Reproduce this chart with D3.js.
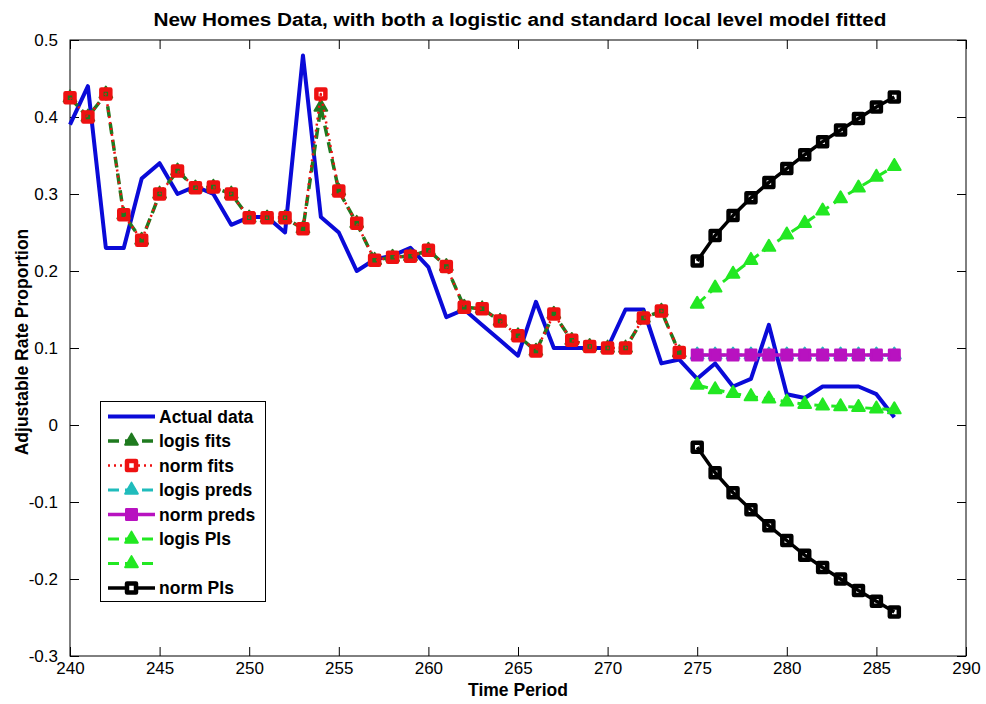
<!DOCTYPE html>
<html>
<head>
<meta charset="utf-8">
<script src="https://cdn.jsdelivr.net/npm/d3@7"></script>
<style>
  html, body { margin: 0; padding: 0; background: #fff; }
  svg { display: block; }
  text { font-family: "Liberation Sans", Arial, sans-serif; }
</style>
</head>
<body>
<script>
// ---------------- DATA ----------------
const actualPeriods = [240,241,242,243,244,245,246,247,248,249,250,251,252,253,254,255,256,257,258,259,260,261,262,263,264,265,266,267,268,269,270,271,272,273,274,275,276,277,278,279,280,281,282,283,284,285,286];
const actualData = [0.39,0.44,0.23,0.23,0.32,0.34,0.30,0.31,0.30,0.26,0.27,0.27,0.25,0.48,0.27,0.25,0.20,0.215,0.22,0.23,0.205,0.14,0.15,0.13,0.11,0.09,0.16,0.10,0.10,0.10,0.10,0.15,0.15,0.08,0.085,0.06,0.08,0.05,0.06,0.13,0.04,0.035,0.05,0.05,0.05,0.04,0.01];

const fitPeriods = [240,241,242,243,244,245,246,247,248,249,250,251,252,253,254,255,256,257,258,259,260,261,262,263,264,265,266,267,268,269,270,271,272,273,274];
const logisFits = [0.425,0.40,0.43,0.273,0.24,0.30,0.33,0.308,0.309,0.30,0.269,0.269,0.269,0.255,0.413,0.304,0.262,0.214,0.218,0.219,0.227,0.206,0.153,0.151,0.135,0.116,0.096,0.144,0.11,0.102,0.10,0.10,0.139,0.148,0.094];
const normFits = [0.425,0.40,0.43,0.273,0.24,0.30,0.33,0.308,0.309,0.30,0.269,0.269,0.269,0.255,0.43,0.304,0.262,0.214,0.218,0.219,0.227,0.206,0.153,0.151,0.135,0.116,0.096,0.144,0.11,0.102,0.10,0.10,0.139,0.148,0.094];

const predPeriods = [275,276,277,278,279,280,281,282,283,284,285,286];
const logisPreds = [0.091,0.091,0.091,0.091,0.091,0.091,0.091,0.091,0.091,0.091,0.091,0.091];
const normPreds = [0.091,0.091,0.091,0.091,0.091,0.091,0.091,0.091,0.091,0.091,0.091,0.091];
const logisPIUpper = [0.157,0.178,0.196,0.214,0.231,0.247,0.262,0.278,0.294,0.308,0.322,0.336];
const logisPILower = [0.052,0.046,0.041,0.037,0.034,0.030,0.027,0.025,0.024,0.023,0.021,0.020];
const normPIUpper = [0.213,0.246,0.272,0.295,0.315,0.333,0.351,0.368,0.383,0.398,0.413,0.426];
const normPILower = [-0.029,-0.062,-0.088,-0.110,-0.131,-0.150,-0.169,-0.185,-0.200,-0.215,-0.229,-0.243];

const xTicks = [240,245,250,255,260,265,270,275,280,285,290];
const xTickLabels = ["240","245","250","255","260","265","270","275","280","285","290"];
const yTicks = [-0.3,-0.2,-0.1,0,0.1,0.2,0.3,0.4,0.5];
const yTickLabels = ["-0.3","-0.2","-0.1","0","0.1","0.2","0.3","0.4","0.5"];

const legendLabels = ["Actual data","logis fits","norm fits","logis preds","norm preds","logis PIs","","norm PIs"];
const titleText = "New Homes Data, with both a logistic and standard local level model fitted";
const xLabelText = "Time Period";
const yLabelText = "Adjustable Rate Proportion";

// ---------------- LAYOUT ----------------
const W = 986, H = 704;
const L = 70, R = 966, T = 40, B = 656;
const x = d3.scaleLinear().domain([240, 290]).range([L, R]);
const y = d3.scaleLinear().domain([-0.3, 0.5]).range([B, T]);

const svg = d3.select("body").append("svg").attr("width", W).attr("height", H);
svg.append("rect").attr("width", W).attr("height", H).attr("fill", "#fff");

const FONT = 17;

// axes frame
svg.append("rect").attr("x", L).attr("y", T).attr("width", R - L).attr("height", B - T)
  .attr("fill", "#fff").attr("stroke", "#000").attr("stroke-width", 1);

function styleAxis(g) {
  g.select(".domain").remove();
  g.selectAll(".tick line").attr("stroke", "#000").attr("stroke-width", 1);
  g.selectAll(".tick text").attr("fill", "#000").style("font-size", FONT + "px")
    .style("font-family", "'Liberation Sans', Arial, sans-serif");
}

svg.append("g").attr("transform", `translate(0,${B})`)
  .call(d3.axisBottom(x).tickValues(xTicks).tickFormat((d, i) => xTickLabels[i])
    .tickSizeInner(-9).tickSizeOuter(0).tickPadding(6))
  .call(styleAxis);
svg.append("g").attr("transform", `translate(0,${T})`)
  .call(d3.axisTop(x).tickValues(xTicks).tickFormat("").tickSizeInner(-9).tickSizeOuter(0))
  .call(styleAxis);
svg.append("g").attr("transform", `translate(${L},0)`)
  .call(d3.axisLeft(y).tickValues(yTicks).tickFormat((d, i) => yTickLabels[i])
    .tickSizeInner(-9).tickSizeOuter(0).tickPadding(12))
  .call(styleAxis);
svg.append("g").attr("transform", `translate(${R},0)`)
  .call(d3.axisRight(y).tickValues(yTicks).tickFormat("").tickSizeInner(-9).tickSizeOuter(0))
  .call(styleAxis);

// ---------------- SERIES ----------------
const C = {
  blue: "#0a0ad8", dkgreen: "#1f7a1f", red: "#ee1111", cyan: "#20bcbc",
  magenta: "#b812c0", green: "#22e822", black: "#000"
};
const line = d3.line().x(d => x(d[0])).y(d => y(d[1]));
const plotG = svg.append("g");

const tri = d3.symbol().type(d3.symbolTriangle).size(70);
const sq = d3.symbol().type(d3.symbolSquare).size(81);
const sqFilled = d3.symbol().type(d3.symbolSquare).size(110);

function markerPath(o) {
  if (o.marker === "tri") return tri;
  if (o.marker === "sqf") return sqFilled;
  return sq;
}

function drawSeries(periods, values, o) {
  const pts = periods.map((p, i) => [p, values[i]]);
  plotG.append("path").datum(pts).attr("d", line).attr("fill", "none")
    .attr("stroke", o.color).attr("stroke-width", o.width)
    .attr("stroke-dasharray", o.dash || null)
    .attr("stroke-linejoin", "round");
  if (o.marker) {
    plotG.append("g").selectAll("path").data(pts).join("path")
      .attr("transform", d => `translate(${x(d[0])},${y(d[1])})`)
      .attr("d", markerPath(o))
      .attr("fill", o.fill)
      .attr("stroke", o.color).attr("stroke-width", o.mstroke || 2)
      .attr("stroke-linejoin", "round");
  }
}

const styles = [
  { color: C.blue, width: 4 },
  { color: C.dkgreen, width: 3.5, dash: "11,6", marker: "tri", fill: C.dkgreen },
  { color: C.red, width: 2.5, dash: "2,4", marker: "sq", fill: "none", mstroke: 4.5 },
  { color: C.cyan, width: 3, dash: "11,6", marker: "tri", fill: C.cyan },
  { color: C.magenta, width: 3.5, marker: "sqf", fill: C.magenta, mstroke: 2.5 },
  { color: C.green, width: 3, dash: "11,6", marker: "tri", fill: C.green },
  { color: C.green, width: 3, dash: "11,6", marker: "tri", fill: C.green },
  { color: C.black, width: 3.5, marker: "sq", fill: "none", mstroke: 4.5 }
];

drawSeries(actualPeriods, actualData, styles[0]);
drawSeries(fitPeriods, logisFits, styles[1]);
drawSeries(fitPeriods, normFits, styles[2]);
drawSeries(predPeriods, logisPreds, styles[3]);
drawSeries(predPeriods, normPreds, styles[4]);
drawSeries(predPeriods, logisPIUpper, styles[5]);
drawSeries(predPeriods, logisPILower, styles[6]);
drawSeries(predPeriods, normPIUpper, styles[7]);
drawSeries(predPeriods, normPILower, styles[7]);

// ---------------- LEGEND ----------------
const lg = svg.append("g");
lg.append("rect").attr("x", 100.5).attr("y", 401.5).attr("width", 165).attr("height", 200)
  .attr("fill", "#fff").attr("stroke", "#000").attr("stroke-width", 1);
const rowY0 = 416.5, rowStep = 24.5;
styles.forEach((s, i) => {
  const cy = rowY0 + i * rowStep;
  lg.append("line").attr("x1", 108).attr("x2", 155).attr("y1", cy).attr("y2", cy)
    .attr("stroke", s.color).attr("stroke-width", s.width)
    .attr("stroke-dasharray", s.dash || null);
  if (s.marker) {
    lg.append("path").attr("transform", `translate(131.5,${cy})`)
      .attr("d", markerPath(s))
      .attr("fill", s.fill === "none" ? "#fff" : s.fill)
      .attr("stroke", s.color).attr("stroke-width", s.mstroke || 2)
      .attr("stroke-linejoin", "round");
  }
  lg.append("text").attr("x", 159).attr("y", cy + 6)
    .style("font-size", "17.5px").style("font-weight", "bold").attr("fill", "#000")
    .text(legendLabels[i]);
});

// ---------------- TEXT ----------------
svg.append("text").attr("x", 520).attr("y", 26).attr("text-anchor", "middle")
  .attr("textLength", 733).attr("lengthAdjust", "spacingAndGlyphs")
  .style("font-size", "18px").style("font-weight", "bold").text(titleText);
svg.append("text").attr("x", (L + R) / 2).attr("y", 696).attr("text-anchor", "middle")
  .style("font-size", "17.5px").style("font-weight", "bold").text(xLabelText);
svg.append("text").attr("transform", `translate(28,342) rotate(-90)`).attr("text-anchor", "middle")
  .style("font-size", "17.5px").style("font-weight", "bold").text(yLabelText);
</script>
</body>
</html>
